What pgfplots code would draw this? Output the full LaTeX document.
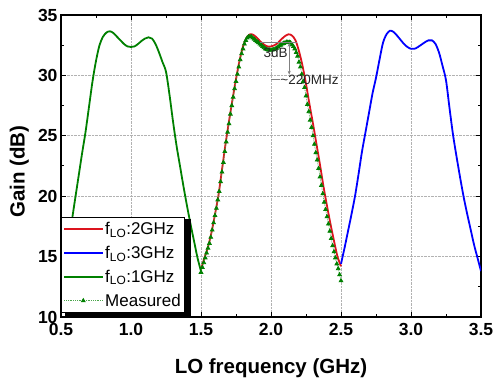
\documentclass[border=0pt]{standalone}
\usepackage{fontspec}
\setmainfont{Liberation Sans}
\usepackage{pgfplots}
\pgfplotsset{compat=1.18}
\usetikzlibrary{arrows.meta}
\definecolor{cred}{RGB}{220,20,30}
\definecolor{cblue}{RGB}{0,0,255}
\definecolor{cgreen}{RGB}{0,128,0}
\begin{document}
\begin{tikzpicture}
\begin{axis}[
 scale only axis, width=420pt, height=302pt,
 xmin=0.5, xmax=3.5, ymin=10, ymax=35,
 clip mode=individual,
 xtick={0.5,1,...,3.5}, ytick={10,15,...,35},
 minor x tick num=1, minor y tick num=1,
 tick align=inside, xtick pos=both, ytick pos=both,
 major tick length=5pt, minor tick length=3pt,
 every tick/.style={black, line width=1pt},
 axis line style={line width=1.5pt},
 grid=major, grid style={densely dotted, gray!60, line width=0.8pt},
 /pgf/number format/assume math mode=true,
 xticklabel style={/pgf/number format/.cd, fixed, fixed zerofill, precision=1, /tikz/yshift=-3pt},
 ticklabel style={font=\fontsize{17.5}{20}\selectfont\bfseries},
 xlabel={LO frequency (GHz)}, ylabel={Gain (dB)},
 label style={font=\fontsize{20.5}{24}\selectfont\bfseries},
 xlabel style={at={(axis description cs:0.5,0)}, anchor=base, yshift=-57pt},
 ylabel style={at={(axis description cs:-0.0867,0.481)}, anchor=base, rotate=0},
 legend cell align=left,
 legend style={at={(axis description cs:0,0.013)}, anchor=south west,
   font=\fontsize{17}{20}\selectfont, draw=black, line width=0.8pt, fill=white,
   inner xsep=2pt, inner ysep=3pt, row sep=6pt},
 legend image code/.code={\draw[mark repeat=2,mark phase=2,#1] plot coordinates {(0pt,0pt) (19pt,0pt) (38pt,0pt)};},
]
\addplot[cred, line width=1.8pt, smooth] coordinates {
(1.500,13.95)(1.525,14.9)(1.550,15.8)(1.575,17.0)(1.600,18.5)(1.625,20.1)(1.650,22.2)(1.675,24.3)(1.700,26.2)(1.725,28.0)(1.750,29.7)(1.775,31.2)(1.800,32.4)(1.825,33.1)(1.850,33.4)(1.875,33.35)(1.900,33.1)(1.925,32.8)(1.950,32.55)(1.975,32.4)(2.000,32.4)(2.025,32.5)(2.050,32.7)(2.075,33.0)(2.100,33.25)(2.125,33.4)(2.150,33.3)(2.175,32.9)(2.200,32.0)(2.225,30.8)(2.250,29.3)(2.275,27.6)(2.300,26.0)(2.325,24.3)(2.350,22.6)(2.375,20.8)(2.400,19.2)(2.425,17.7)(2.450,16.3)(2.475,15.0)(2.500,14.2)
};
\addlegendentry{f\textsubscript{LO}:2GHz}
\addplot[cblue, line width=1.8pt, smooth] coordinates {
(2.500,14.4)(2.525,15.7)(2.550,17.1)(2.575,18.5)(2.600,20.0)(2.625,21.8)(2.650,23.7)(2.675,25.3)(2.700,26.9)(2.725,28.5)(2.750,29.8)(2.775,31.3)(2.800,32.7)(2.825,33.4)(2.850,33.7)(2.875,33.6)(2.900,33.3)(2.925,32.95)(2.950,32.6)(2.975,32.35)(3.000,32.2)(3.025,32.2)(3.050,32.35)(3.075,32.55)(3.100,32.75)(3.125,32.9)(3.150,32.9)(3.175,32.6)(3.200,31.9)(3.225,30.8)(3.250,29.6)(3.275,27.3)(3.300,25.1)(3.325,23.3)(3.350,21.6)(3.375,20.0)(3.400,18.6)(3.425,17.3)(3.450,16.0)(3.475,14.9)(3.500,13.8)
};
\addlegendentry{f\textsubscript{LO}:3GHz}
\addplot[cgreen, line width=1.8pt, smooth] coordinates {
(0.500,13.6)(0.525,14.8)(0.550,16.2)(0.575,17.8)(0.600,19.7)(0.625,21.6)(0.650,23.5)(0.675,25.3)(0.700,27.4)(0.725,29.5)(0.750,31.2)(0.775,32.5)(0.800,33.2)(0.825,33.55)(0.850,33.65)(0.875,33.5)(0.900,33.2)(0.925,32.9)(0.950,32.6)(0.975,32.4)(1.000,32.35)(1.025,32.4)(1.050,32.6)(1.075,32.85)(1.100,33.05)(1.125,33.15)(1.150,33.05)(1.175,32.6)(1.200,31.9)(1.225,31.1)(1.250,30.3)(1.275,28.4)(1.300,26.2)(1.325,24.2)(1.350,22.5)(1.375,20.8)(1.400,19.2)(1.425,17.7)(1.450,16.3)(1.475,14.9)(1.500,13.8)
};
\addlegendentry{f\textsubscript{LO}:1GHz}
\addplot[cgreen!70, densely dotted, line width=0.8pt, mark=triangle*, mark size=2.1pt, mark options={solid, fill=cgreen, draw=cgreen}] coordinates {
(1.50,13.7)(1.51,14.1)(1.52,14.5)(1.53,14.9)(1.54,15.3)(1.55,15.7)(1.56,16.1)(1.57,16.6)(1.58,17.2)(1.59,17.8)(1.60,18.4)(1.61,19.0)(1.62,19.7)(1.63,20.4)(1.64,21.2)(1.65,22.0)(1.66,22.8)(1.67,23.7)(1.68,24.5)(1.69,25.3)(1.70,26.0)(1.71,26.8)(1.72,27.5)(1.73,28.2)(1.74,28.9)(1.75,29.5)(1.76,30.1)(1.77,30.7)(1.78,31.3)(1.79,31.8)(1.80,32.2)(1.81,32.6)(1.82,32.9)(1.83,33.1)(1.84,33.2)(1.85,33.2)(1.86,33.2)(1.87,33.1)(1.88,33.0)(1.89,32.9)(1.90,32.8)(1.91,32.7)(1.92,32.6)(1.93,32.5)(1.94,32.4)(1.95,32.3)(1.96,32.2)(1.97,32.15)(1.98,32.1)(1.99,32.1)(2.00,32.1)(2.01,32.1)(2.02,32.15)(2.03,32.2)(2.04,32.25)(2.05,32.35)(2.06,32.45)(2.07,32.5)(2.08,32.6)(2.09,32.65)(2.10,32.7)(2.11,32.75)(2.12,32.75)(2.13,32.75)(2.14,32.7)(2.15,32.55)(2.16,32.4)(2.17,32.2)(2.18,31.9)(2.19,31.6)(2.20,31.1)(2.21,30.7)(2.22,30.1)(2.23,29.5)(2.24,29.0)(2.25,28.3)(2.26,27.6)(2.27,27.0)(2.28,26.3)(2.29,25.7)(2.30,25.0)(2.31,24.3)(2.32,23.6)(2.33,23.0)(2.34,22.3)(2.35,21.6)(2.36,20.9)(2.37,20.2)(2.38,19.5)(2.39,18.9)(2.40,18.3)(2.41,17.7)(2.42,17.1)(2.43,16.5)(2.44,15.9)(2.45,15.4)(2.46,14.9)(2.47,14.4)(2.48,14.0)(2.49,13.5)(2.50,13.0)
};
\addlegendentry{Measured}
\draw[gray, line width=0.8pt] (axis cs:1.92,32.7) -- (axis cs:2.185,32.7);
\draw[gray, line width=0.8pt, {Stealth[length=4pt]}-{Stealth[length=4pt]}] (axis cs:2.13,32.7) -- (axis cs:2.13,30.05);
\draw[gray, line width=0.8pt] (axis cs:2.0,29.65) -- (axis cs:2.065,29.65);
\node[anchor=east, inner sep=0pt, font=\fontsize{13.5}{15}\selectfont, text=black!85] at (axis cs:2.12,31.85) {3dB};
\node[anchor=west, inner sep=0pt, font=\fontsize{13.5}{15}\selectfont, text=black!85] at (axis cs:2.066,29.65) {{\char"7E}220MHz};
\fill[black] (rel axis cs:0.0095,-0.003) rectangle (rel axis cs:0.310,0.325);
\end{axis}
\pgfresetboundingbox
\path[use as bounding box] (-61pt,-62pt) rectangle (434pt,317pt);
\end{tikzpicture}
\end{document}
